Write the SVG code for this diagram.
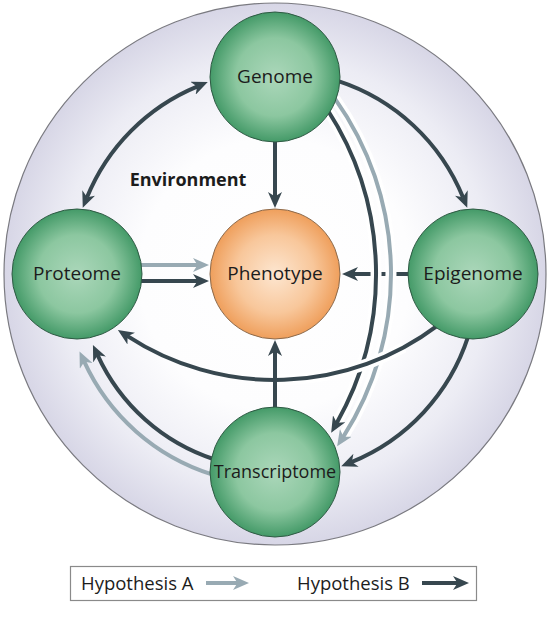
<svg xmlns="http://www.w3.org/2000/svg" width="550" height="630" viewBox="0 0 550 630">
<defs>
<radialGradient id="bg" cx="0.5" cy="0.5" r="0.5">
<stop offset="0" stop-color="#ffffff"/>
<stop offset="0.5" stop-color="#fdfdfe"/>
<stop offset="0.8" stop-color="#ececf4"/>
<stop offset="1" stop-color="#d7d6e6"/>
</radialGradient>
<radialGradient id="green" cx="0.5" cy="0.5" r="0.5">
<stop offset="0" stop-color="#abd7ba"/>
<stop offset="0.6" stop-color="#8cc7a0"/>
<stop offset="1" stop-color="#449a68"/>
</radialGradient>
<radialGradient id="orange" cx="0.5" cy="0.5" r="0.5">
<stop offset="0" stop-color="#fde6d0"/>
<stop offset="0.6" stop-color="#f8c79b"/>
<stop offset="1" stop-color="#ef9f5c"/>
</radialGradient>
<marker id="ad" viewBox="0 0 16 14" markerWidth="16" markerHeight="14" refX="5" refY="7" orient="auto-start-reverse" markerUnits="userSpaceOnUse">
<path d="M0,0 L16,7 L0,14 L4.5,7 Z" fill="#37474f"/>
</marker>
<marker id="ag" viewBox="0 0 16 14" markerWidth="16" markerHeight="14" refX="5" refY="7" orient="auto-start-reverse" markerUnits="userSpaceOnUse">
<path d="M0,0 L16,7 L0,14 L4.5,7 Z" fill="#98aab3"/>
</marker>
<style>
.d{fill:none;stroke:#37474f;stroke-width:4;marker-end:url(#ad)}
.g{fill:none;stroke:#98aab3;stroke-width:4;marker-end:url(#ag)}
.halo{fill:none;stroke:#ffffff;stroke-width:11}
.node{stroke:#2f5a44;stroke-width:1}
.lbl{font-family:"Open Sans","Liberation Sans",sans-serif;font-size:19px;fill:#1c1c1c;text-anchor:middle}
.leg{font-family:"Open Sans","Liberation Sans",sans-serif;font-size:18.5px;fill:#1c1c1c}
</style>
</defs>
<g id="environment">
<circle cx="275" cy="274" r="271" fill="url(#bg)" stroke="#7a7a80" stroke-width="1.2"/>
<text x="188" y="186" style="font-family:'Open Sans','Liberation Sans',sans-serif;font-size:18px;font-weight:bold;fill:#1c1c1c;text-anchor:middle">Environment</text>
</g>
<g id="connectors">
<path class="d" d="M410,274 H353"/>
<path class="halo" d="M327.3,109.5 A302,302 0 0 1 336.6,423.2"/>
<path class="d" d="M327.3,109.5 A302,302 0 0 1 336.6,423.2"/>
<path class="halo" d="M334.9,98.6 A302,302 0 0 1 343.1,437.1"/>
<path class="g" d="M334.9,98.6 A302,302 0 0 1 343.1,437.1"/>
<path class="halo" d="M437.5,325.6 A270,270 0 0 1 127.1,335.9" stroke-dasharray="0 40 140 400"/>
<path class="d" d="M437.5,325.6 A270,270 0 0 1 127.1,335.9"/>
<path class="d" d="M275,408 V351"/>
<path class="d" d="M275,140 V197"/>
<path class="d" d="M86.9,197.6 A203,203 0 0 1 197.6,86.3" marker-start="url(#ad)"/>
<path class="d" d="M337.7,80.9 A203,203 0 0 1 463.1,197.6"/>
<path class="d" d="M468.1,336.7 A203,203 0 0 1 351.4,462.1"/>
<path class="d" d="M214.7,459.5 A195,195 0 0 1 97.5,354.9"/>
<path class="g" d="M211.9,474.3 A210,210 0 0 1 84.1,361.4"/>
<path class="g" d="M138,265 H198"/>
<path class="d" d="M138,281 H198"/>
</g>
<g id="genome">
<circle class="node" cx="275" cy="77" r="65" fill="url(#green)"/>
<text class="lbl" x="275" y="83">Genome</text>
</g>
<g id="proteome">
<circle class="node" cx="77" cy="274" r="65" fill="url(#green)"/>
<text class="lbl" x="77" y="280">Proteome</text>
</g>
<g id="phenotype">
<circle cx="275" cy="274" r="65" fill="url(#orange)" stroke="#8c6a4c" stroke-width="1"/>
<text class="lbl" x="275" y="280">Phenotype</text>
</g>
<g id="epigenome">
<circle class="node" cx="473" cy="274" r="65" fill="url(#green)"/>
<text class="lbl" x="473" y="280">Epigenome</text>
</g>
<g id="transcriptome">
<circle class="node" cx="275" cy="472" r="65" fill="url(#green)"/>
<text class="lbl" x="275" y="478" style="font-size:18px">Transcriptome</text>
</g>
<g id="legend">
<rect x="70.5" y="566.5" width="406" height="34" fill="#ffffff" stroke="#8a8a8a" stroke-width="1.2"/>
<text class="leg" x="81" y="590">Hypothesis A</text>
<path class="g" d="M206,583 H238"/>
<text class="leg" x="297" y="590">Hypothesis B</text>
<path class="d" d="M422,583 H458"/>
</g>
</svg>
